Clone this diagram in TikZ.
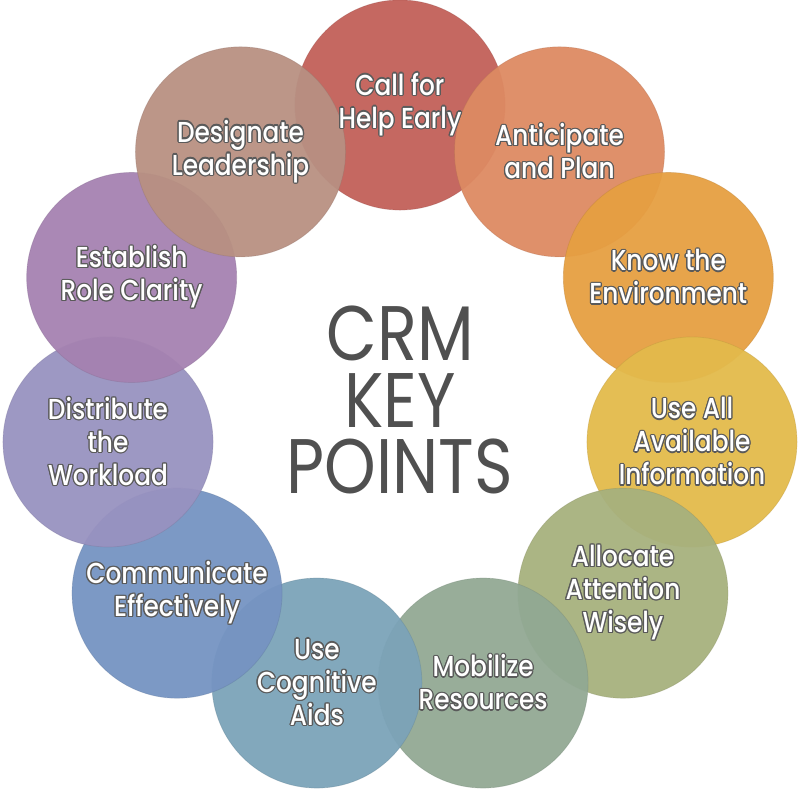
\documentclass[tikz,border=0pt]{standalone}
\usepackage{fontspec}
\usepackage[copies]{contour}
\newfontfamily\bubblefont{Poppins}[UprightFont={* Medium},FakeStretch=0.86]
\newfontfamily\titlefont{Poppins}[FakeStretch=0.85]
\contourlength{0.9pt}
\contournumber{12}
\newcommand{\ol}[1]{\contour{outline}{#1}}
\definecolor{outline}{HTML}{5A5A5A}
\definecolor{titlegray}{HTML}{505050}
\definecolor{cHelp}{RGB}{194,96,89}
\definecolor{cPlan}{RGB}{221,138,98}
\definecolor{cEnv}{RGB}{230,159,65}
\definecolor{cInfo}{RGB}{227,186,75}
\definecolor{cWise}{RGB}{167,177,125}
\definecolor{cMob}{RGB}{146,169,148}
\definecolor{cAids}{RGB}{123,163,184}
\definecolor{cComm}{RGB}{117,148,194}
\definecolor{cWork}{RGB}{152,146,192}
\definecolor{cRole}{RGB}{165,130,177}
\definecolor{cLead}{RGB}{184,144,130}
\tikzset{
  bubble/.style={circle, minimum size=5.25cm, inner sep=0pt,
    fill opacity=0.95, draw opacity=0.35, line width=0.5pt},
  lbl/.style={align=center, text=white, font=\bubblefont\fontsize{20.5}{23.5}\selectfont},
  title/.style={align=center, text=titlegray, font=\titlefont\fontsize{55}{47.5}\selectfont}
}
\begin{document}
\begin{tikzpicture}[x=0.025cm,y=0.025cm]
  \useasboundingbox (-400,-395) rectangle (400,400);
  % ring of circles
  \foreach \n/\c [count=\i from 0] in {help/cHelp, plan/cPlan, env/cEnv,
      info/cInfo, wise/cWise, mob/cMob, aids/cAids, comm/cComm,
      work/cWork, role/cRole, lead/cLead}
    \node[bubble, fill=\c, draw=\c!80!black] (\n) at ({90-\i*360/11}:295) {};
  % labels
  \node[lbl] (help-t) at (help) {\ol{Call for}\\\ol{Help Early}};
  \node[lbl] (plan-t) at (plan) {\ol{Anticipate}\\\ol{and Plan}};
  \node[lbl] (env-t) at (env) {\ol{Know the}\\\ol{Environment}};
  \node[lbl] (info-t) at (info) {\ol{Use All}\\\ol{Available}\\\ol{Information}};
  \node[lbl] (wise-t) at (wise) {\ol{Allocate}\\\ol{Attention}\\\ol{Wisely}};
  \node[lbl] (mob-t) at (mob) {\ol{Mobilize}\\\ol{Resources}};
  \node[lbl] (aids-t) at (aids) {\ol{Use}\\\ol{Cognitive}\\\ol{Aids}};
  \node[lbl] (comm-t) at (comm) {\ol{Communicate}\\\ol{Effectively}};
  \node[lbl] (work-t) at (work) {\ol{Distribute}\\\ol{the}\\\ol{Workload}};
  \node[lbl] (role-t) at (role) {\ol{Establish}\\\ol{Role Clarity}};
  \node[lbl] (lead-t) at (lead) {\ol{Designate}\\\ol{Leadership}};
  % centre
  \node[title] (crm) at (0,0) {CRM\\KEY\\POINTS};
\end{tikzpicture}
\end{document}
